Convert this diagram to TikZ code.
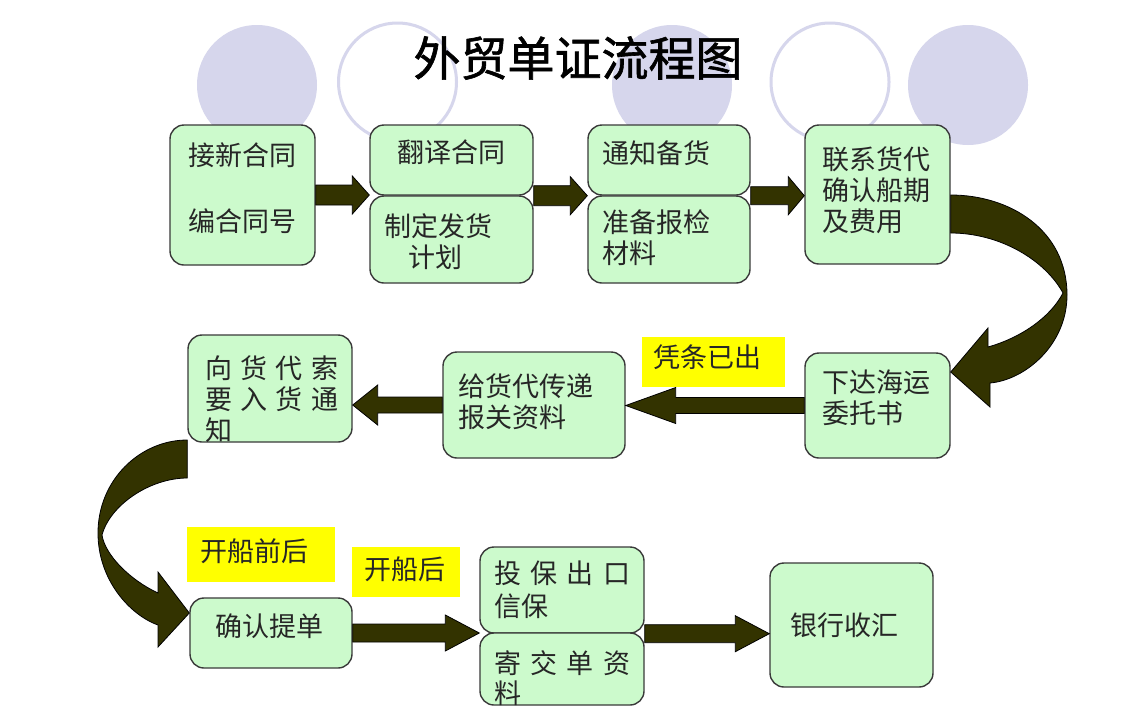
\documentclass[tikz,border=0pt]{standalone}
\usepackage{fontspec}
\setmainfont{Noto Sans CJK SC}
\newfontfamily\titlefont[FakeBold=1.3]{Noto Sans CJK SC}
\usetikzlibrary{calc}
\definecolor{boxgreen}{HTML}{CCFACC}
\definecolor{boxline}{HTML}{3A3A3A}
\definecolor{arrowolive}{HTML}{333300}
\definecolor{lav}{HTML}{D6D6EC}
\definecolor{yel}{HTML}{FFFF00}
\tikzset{
  box/.style={draw=boxline, fill=boxgreen, line width=1.4pt, rounded corners=14pt, inner sep=0pt},
  txt/.style={anchor=west, inner sep=0pt, font=\fontsize{27}{30}\selectfont, text=black!85},
  tag/.style={fill=yel, draw=none, inner sep=0pt},
  blockarrow/.style={fill=arrowolive, draw=black, line width=0.8pt, line join=miter},
  ring/.style={draw=lav, line width=3pt, fill=white},
  disc/.style={fill=lav},
}
% #1 start, #2 tip, #3 shaft half height, #4 head half height, #5 signed head length
\newcommand{\blockarrow}[5]{%
  \filldraw[blockarrow] let \p1=(#1), \p2=(#2), \n1={#5} in
    ({\x1},{\y1+#3pt}) -- ({\x2-\n1*1pt},{\y1+#3pt}) -- ({\x2-\n1*1pt},{\y1+#4pt}) --
    ({\x2},{\y1}) -- ({\x2-\n1*1pt},{\y1-#4pt}) -- ({\x2-\n1*1pt},{\y1-#3pt}) --
    ({\x1},{\y1-#3pt}) -- cycle;}
\begin{document}
\begin{tikzpicture}[x=1pt,y=-1pt]
\useasboundingbox (0,0) rectangle (1131,715);
\fill[white] (0,0) rectangle (1131,715);
% background circles
\fill[disc] (257,85) circle[radius=60];
\draw[ring] (397.5,82) circle[radius=59];
\fill[disc] (672,85) circle[radius=60];
\draw[ring] (830,82) circle[radius=59];
\fill[disc] (968,85) circle[radius=60];
% title
\node[inner sep=0pt, font=\titlefont\fontsize{47}{50}\selectfont, text=black] (title) at (578,58) {外贸单证流程图};
% boxes
\node[box, minimum width=145, minimum height=140] (b1) at (242.5,195) {};
\node[box, minimum width=163, minimum height=70] (b2a) at (451.5,160) {};
\node[box, minimum width=163, minimum height=87] (b2b) at (451.5,239.5) {};
\node[box, minimum width=162, minimum height=70] (b3a) at (669,160) {};
\node[box, minimum width=162, minimum height=87] (b3b) at (669,239.5) {};
\node[box, minimum width=145, minimum height=139] (b4) at (877.5,194.5) {};
\node[box, minimum width=145, minimum height=105] (b5) at (877.5,405.5) {};
\node[box, minimum width=182, minimum height=106] (b6) at (534,405) {};
\node[box, minimum width=164, minimum height=107] (b7) at (270,388.5) {};
\node[box, minimum width=162, minimum height=70] (b8) at (271,633) {};
\node[box, minimum width=164, minimum height=86] (b9) at (562,590) {};
\node[box, minimum width=164, minimum height=72] (b10) at (562,669) {};
\node[box, minimum width=163, minimum height=124] (b11) at (851.5,625) {};
% yellow tags
\node[tag, minimum width=143, minimum height=50] (g1) at (713.5,362) {};
\node[tag, minimum width=148, minimum height=55] (g2) at (261,554.5) {};
\node[tag, minimum width=108, minimum height=50] (g3) at (406,572) {};
% texts
\node[txt] (t1a) at (188,155) {接新合同};
\node[txt] (t1b) at (188,221) {编合同号};
\node[txt] (t2a) at (397,152) {翻译合同};
\node[txt] (t2b) at (384,226) {制定发货};
\node[txt] (t2c) at (408,257) {计划};
\node[txt] (t3a) at (602,153) {通知备货};
\node[txt] (t3b) at (602,222) {准备报检};
\node[txt] (t3c) at (602,253) {材料};
\node[txt] (t4a) at (822,159) {联系货代};
\node[txt] (t4b) at (822,190) {确认船期};
\node[txt] (t4c) at (822,221) {及费用};
\node[txt] (t5a) at (822,382) {下达海运};
\node[txt] (t5b) at (822,413) {委托书};
\node[txt] (t6a) at (458,386) {给货代传递};
\node[txt] (t6b) at (458,417) {报关资料};
\node[txt] (t7a) at (205,368) {\makebox[133pt][s]{向\hfil 货\hfil 代\hfil 索}};
\node[txt] (t7b) at (205,399) {\makebox[133pt][s]{要\hfil 入\hfil 货\hfil 通}};
\node[txt] (t7c) at (205,430) {知};
\node[txt] (tg1) at (653,357) {凭条已出};
\node[txt] (t8) at (215,626) {确认提单};
\node[txt] (tg2) at (200,551) {开船前后};
\node[txt] (tg3) at (364,569) {开船后};
\node[txt] (t9a) at (494,573) {\makebox[136pt][s]{投\hfil 保\hfil 出\hfil 口}};
\node[txt] (t9b) at (494,606) {信保};
\node[txt] (t10a) at (494,663) {\makebox[136pt][s]{寄\hfil 交\hfil 单\hfil 资}};
\node[txt] (t10b) at (494,693) {料};
\node[txt] (t11) at (790,625) {银行收汇};
% straight block arrows
\blockarrow{b1.east}{b2a.south west}{10}{19}{17}
\blockarrow{b2a.south east}{b3a.south west}{10}{19}{17}
\blockarrow{b3a.south east}{b4.west}{9}{19}{16}
\blockarrow{b5.west}{b6.east}{8}{18}{-50}
\blockarrow{b6.west}{b7.east}{8}{20}{-25}
\blockarrow{b8.east}{b9.south west}{9}{18}{34}
\blockarrow{b9.south east}{b11.west}{9}{18}{34}
% curved arrow right: b4 -> b5
\filldraw[blockarrow] (b4.east |- 0,195) .. controls (1010,195) and (1067,230) .. (1067,295)
  .. controls (1067,345) and (1025,380) .. (990,383) -- (990,407) -- (b5.east |- 0,372) -- (988,328) -- (988,347)
  .. controls (1020,338) and (1050,318) .. (1063,293)
  .. controls (1045,260) and (1000,233) .. (b4.east |- 0,233) -- cycle;
% curved arrow left: b7 -> b8
\filldraw[blockarrow] (b7.south west |- 0,440) .. controls (140,440) and (98,480) .. (98,533)
  .. controls (98,580) and (130,615) .. (158,625) -- (158,647) -- (b8.west |- 0,613) -- (158,572) -- (158,593)
  .. controls (130,580) and (105,555) .. (102,535)
  .. controls (110,505) and (150,478) .. (b7.south west |- 0,478) -- cycle;
\end{tikzpicture}
\end{document}
